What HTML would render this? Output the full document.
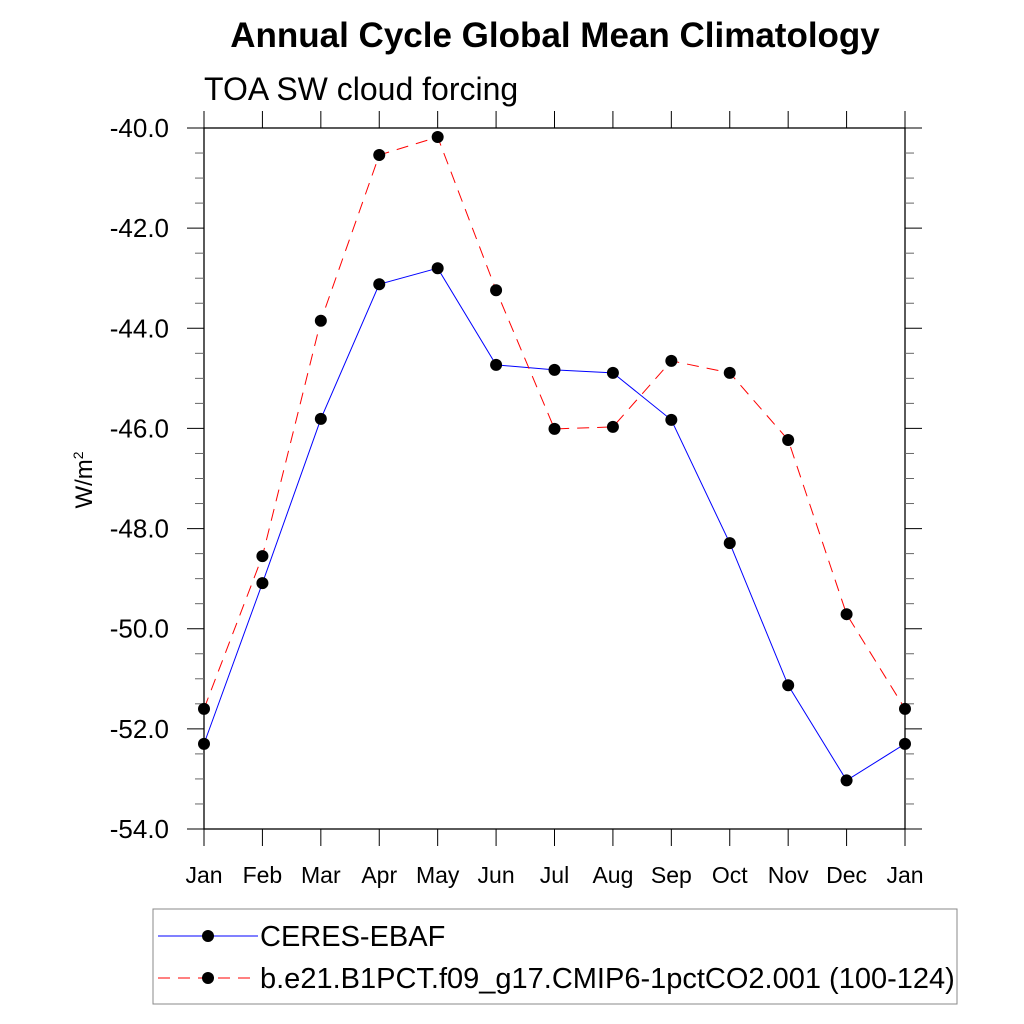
<!DOCTYPE html>
<html><head><meta charset="utf-8"><style>body{margin:0;background:#fff}svg{display:block}text{font-family:"Liberation Sans",sans-serif}</style></head>
<body>
<svg id="chart" width="1024" height="1024" xmlns="http://www.w3.org/2000/svg">
<text x="555" y="47" text-anchor="middle" font-size="35" font-weight="bold">Annual Cycle Global Mean Climatology</text>
<text x="204" y="100" font-size="32">TOA SW cloud forcing</text>
<text transform="translate(92,480) rotate(-90)" text-anchor="middle" font-size="24">W/m<tspan dy="-9" font-size="14">2</tspan></text>
<g id="axes"></g><g id="series"></g>
<rect x="153" y="909" width="804" height="95" fill="none" stroke="#888" stroke-width="1"/>
<g>
<line x1="158" y1="936" x2="258" y2="936" stroke="#0000ff" stroke-width="1"/>
<circle cx="208" cy="936" r="6" fill="#000"/>
<text x="260" y="946" font-size="29">CERES-EBAF</text></g>
<g>
<line x1="158" y1="978" x2="258" y2="978" stroke="#ff0000" stroke-width="1" stroke-dasharray="12,8"/>
<circle cx="208" cy="978" r="6" fill="#000"/>
<text x="260" y="988" font-size="29">b.e21.B1PCT.f09_g17.CMIP6-1pctCO2.001 (100-124)</text></g>
</svg>
<script>
const months=["Jan","Feb","Mar","Apr","May","Jun","Jul","Aug","Sep","Oct","Nov","Dec","Jan"];
const ceres=[-52.30,-49.09,-45.81,-43.12,-42.80,-44.73,-44.83,-44.89,-45.83,-48.29,-51.13,-53.03,-52.30];
const model=[-51.60,-48.55,-43.85,-40.54,-40.18,-43.24,-46.01,-45.97,-44.65,-44.89,-46.23,-49.71,-51.60];
const yTicks=[-40,-42,-44,-46,-48,-50,-52,-54];
const NS="http://www.w3.org/2000/svg";
const L=204,R=905,T=128,B=829;
const xs=i=>L+i*(R-L)/12;
const ys=v=>T+(-40-v)*(B-T)/14;
function mk(tag,at,parent){const e=document.createElementNS(NS,tag);for(const k in at)e.setAttribute(k,at[k]);parent.appendChild(e);return e;}
const ax=document.getElementById('axes');
const frame=mk('rect',{x:L,y:T,width:R-L,height:B-T,fill:'none',stroke:'#000','stroke-width':1.3},ax);


for(let v=-40;v>=-54;v-=0.5){const y=ys(v);const major=Math.abs(v%2)<1e-6;const len=major?17:9;
mk('line',{x1:L-len,y1:y,x2:L,y2:y,stroke:major?'#000':'#666','stroke-width':1},ax);
mk('line',{x1:R,y1:y,x2:R+len,y2:y,stroke:major?'#000':'#666','stroke-width':1},ax);}
yTicks.forEach(v=>{const t=mk('text',{x:L-35,y:ys(v)+9,'text-anchor':'end','font-size':26},ax);t.textContent=v.toFixed(1);

});
months.forEach((m,i)=>{const x=xs(i);
mk('line',{x1:x,y1:B,x2:x,y2:B+17,stroke:'#000'},ax);mk('line',{x1:x,y1:T-17,x2:x,y2:T,stroke:'#000'},ax);
const t=mk('text',{x:x,y:883,'text-anchor':'middle','font-size':23},ax);t.textContent=m;

});
const sg=document.getElementById('series');
function draw(arr,color,dash,name){const g=mk('g',{},sg);


mk('polyline',{points:arr.map((v,i)=>xs(i)+','+ys(v)).join(' '),fill:'none',stroke:color,'stroke-width':1,'stroke-dasharray':dash},g);
arr.forEach((v,i)=>{const c=mk('circle',{cx:xs(i),cy:ys(v),r:6,fill:'#000'},g);

});}
draw(ceres,'#0000ff','none','series-ceres');
draw(model,'#ff0000','12,8','series-model');
</script>
</body></html>
